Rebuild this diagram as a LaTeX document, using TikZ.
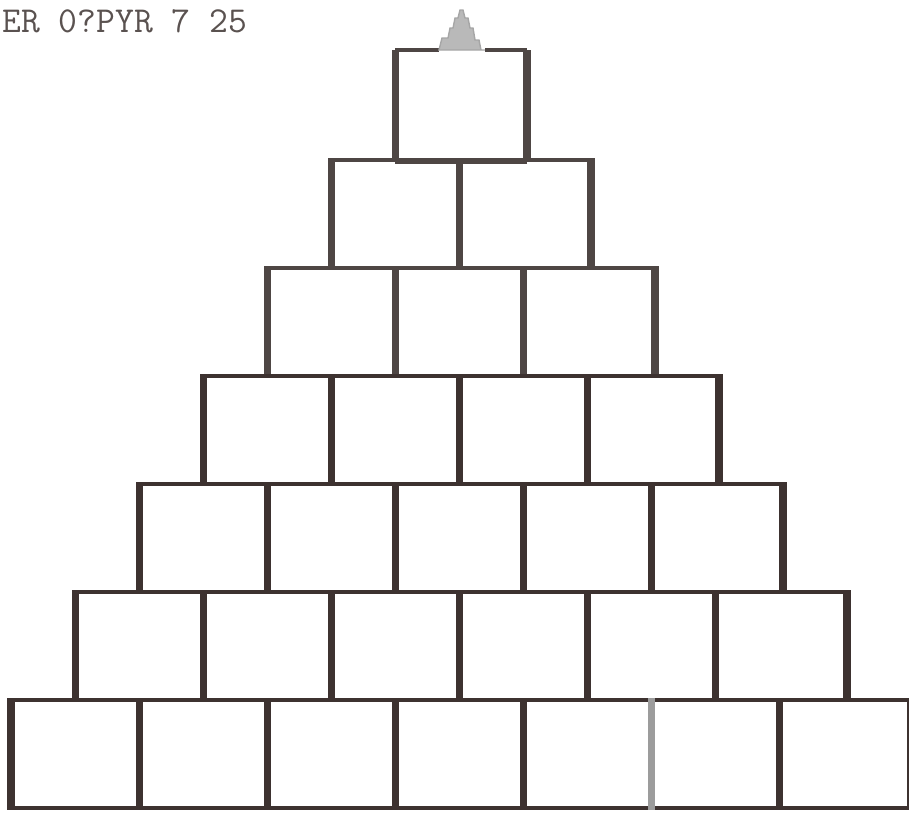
\documentclass[tikz,border=0pt]{standalone}
\usepackage{tikz}
\definecolor{inkdark}{HTML}{3D3230}
\definecolor{inkgray}{HTML}{4E4644}
\definecolor{inklight}{HTML}{9C9C9C}
\definecolor{inktext}{HTML}{5A5250}
\tikzstyle{brick}=[draw=inkdark, line width=2.8pt, minimum width=3.2cm, minimum height=2.7cm, inner sep=0pt]
\tikzstyle{wall}=[line width=5pt]
\tikzstyle{ledge}=[draw=inkgray, line width=2.8pt]

\begin{document}
\begin{tikzpicture}[x=0.025cm,y=0.025cm]
  \useasboundingbox (0,0) rectangle (909,812);
  % label in the corner
  \node [anchor=west, text=inktext, inner sep=0pt, font=\ttfamily\fontsize{26}{26}\selectfont] (caption) at (2,791) {ER 0?PYR 7 25};
  % top brick, its roof is open for the tip
  \node [brick, draw=none] (b-1-1) at (461,706) {};
  \draw [wall, draw=inkgray] (b-1-1.north west) -- (b-1-1.south west);
  \draw [wall, draw=inkgray] (b-1-1.north east) -- (b-1-1.south east);
  \draw [ledge] (b-1-1.north west) -- ++(44,0) coordinate (gapl);
  \draw [ledge] (b-1-1.north east) -- ++(-42,0) coordinate (gapr);
  \filldraw [fill=gray!55, draw=gray!70, line width=1pt, line join=miter] (gapl) -- ++(3,12) -- ++(6,0) -- ++(2,10) -- ++(3,0) -- ++(2,10) -- ++(3,0) -- ++(2,8) -- ++(3,0) -- ++(2,-8) -- ++(3,0) -- ++(2,-10) -- ++(3,0) -- ++(2,-12) -- ++(4,0) -- ++(2,-10) -- (gapr) -- cycle;
  % the other rows
  \foreach \r/\ink in {2/inkgray,3/inkgray,4/inkdark,5/inkdark,6/inkdark,7/inkdark} {
    \foreach \c in {1,...,\r} {
      \node [brick, draw=\ink] (b-\r-\c) at ({461-64*\r+128*(\c-0.5)},{706-108*(\r-1)}) {};
      \draw [wall, draw=\ink] (b-\r-\c.north west) -- (b-\r-\c.south west);
    }
    \draw [wall, draw=\ink] (b-\r-\r.north east) -- (b-\r-\r.south east);
  }
  \draw [ledge] (b-1-1.south west) -- (b-1-1.south east);
  % faded joint in the bottom row
  \draw [wall, draw=inklight] (b-7-6.north west) -- (b-7-6.south west);
\end{tikzpicture}
\end{document}
